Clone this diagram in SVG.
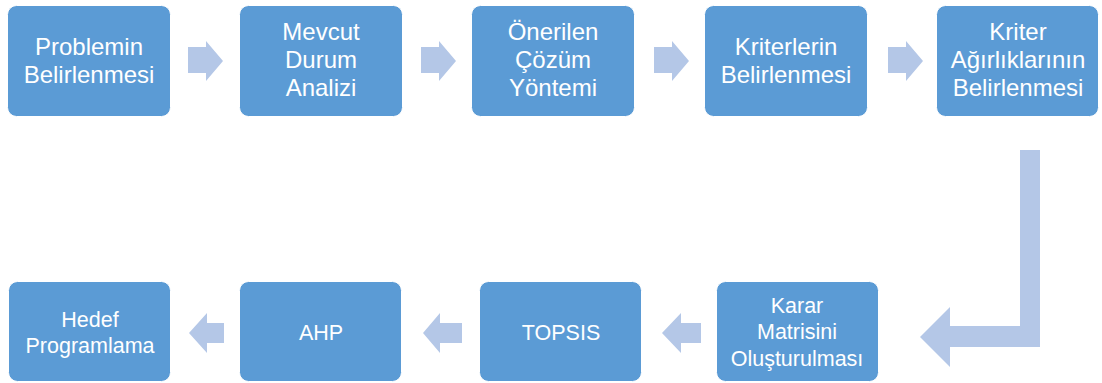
<svg xmlns="http://www.w3.org/2000/svg" width="1102" height="383" viewBox="0 0 1102 383">
<style>
.box{fill:#5B9BD5;stroke:#FFFFFF;stroke-width:1}
.arr{fill:#B4C7E7}
.t{fill:#FFFFFF;font-family:"Liberation Sans",Arial,sans-serif;text-anchor:middle}
.big{font-size:24px}
.small{font-size:21.5px}
</style>
<rect width="1102" height="383" fill="#FFFFFF"/>
<g id="connectors">
<path class="arr" d="M188,47 H206 V41 L223,61 L206,81 V73 H188 Z"/>
<path class="arr" d="M421,47 H439 V41 L456,61 L439,81 V73 H421 Z"/>
<path class="arr" d="M654,47 H672 V41 L689,61 L672,81 V73 H654 Z"/>
<path class="arr" d="M888,47 H906 V41 L923,61 L906,81 V73 H888 Z"/>
<path class="arr" d="M1020,150 H1040 V347 H950 V367 L920,337 L950,307 V326 H1020 Z"/>
<path class="arr" d="M701,323 H681 V313 L662,333 L681,353 V343 H701 Z"/>
<path class="arr" d="M462,323 H440 V313 L423,333 L440,353 V343 H462 Z"/>
<path class="arr" d="M224,323 H207 V313 L189,333 L207,353 V343 H224 Z"/>
</g>
<g id="n1">
<rect class="box" x="7.5" y="5.5" width="163" height="111" rx="9"/>
<text class="t big" x="89" y="55">Problemin</text>
<text class="t big" x="89" y="83">Belirlenmesi</text>
</g>
<g id="n2">
<rect class="box" x="239.5" y="5.5" width="163" height="111" rx="9"/>
<text class="t big" x="321" y="40">Mevcut</text>
<text class="t big" x="321" y="68">Durum</text>
<text class="t big" x="321" y="96">Analizi</text>
</g>
<g id="n3">
<rect class="box" x="471.5" y="5.5" width="163" height="111" rx="9"/>
<text class="t big" x="553" y="40">Önerilen</text>
<text class="t big" x="553" y="68">Çözüm</text>
<text class="t big" x="553" y="96">Yöntemi</text>
</g>
<g id="n4">
<rect class="box" x="704.5" y="5.5" width="163" height="111" rx="9"/>
<text class="t big" x="786" y="55">Kriterlerin</text>
<text class="t big" x="786" y="83">Belirlenmesi</text>
</g>
<g id="n5">
<rect class="box" x="936.5" y="5.5" width="162" height="111" rx="9"/>
<text class="t big" x="1018" y="40">Kriter</text>
<text class="t big" x="1018" y="68">Ağırlıklarının</text>
<text class="t big" x="1018" y="96">Belirlenmesi</text>
</g>
<g id="n6">
<rect class="box" x="716.5" y="281.5" width="162" height="100" rx="9"/>
<text class="t small" x="797" y="313">Karar</text>
<text class="t small" x="797" y="339">Matrisini</text>
<text class="t small" x="797" y="366">Oluşturulması</text>
</g>
<g id="n7">
<rect class="box" x="479.5" y="281.5" width="162" height="100" rx="9"/>
<text class="t small" x="561" y="340">TOPSIS</text>
</g>
<g id="n8">
<rect class="box" x="239.5" y="281.5" width="162" height="100" rx="9"/>
<text class="t small" x="321" y="340">AHP</text>
</g>
<g id="n9">
<rect class="box" x="8.5" y="281.5" width="162" height="100" rx="9"/>
<text class="t small" x="90" y="327">Hedef</text>
<text class="t small" x="90" y="353">Programlama</text>
</g>
</svg>
